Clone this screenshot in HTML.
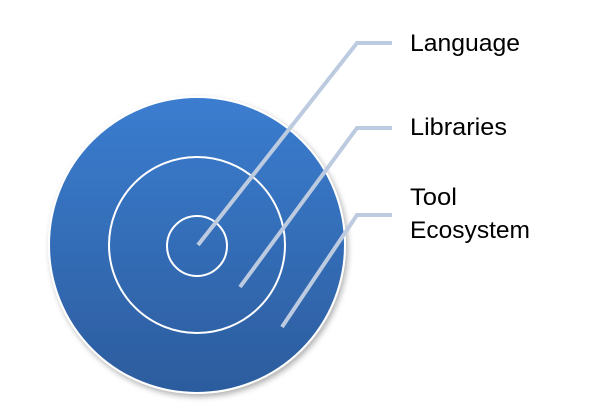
<!DOCTYPE html>
<html><head><style>
html,body{margin:0;padding:0;background:#fff;}
</style></head><body>
<svg width="590" height="405" viewBox="0 0 590 405" xmlns="http://www.w3.org/2000/svg">
<defs>
<linearGradient id="g" x1="0" y1="0" x2="0" y2="1">
<stop offset="0" stop-color="#3b7dd0"/>
<stop offset="1" stop-color="#2c5c9d"/>
</linearGradient>
<filter id="s" x="-10%" y="-10%" width="130%" height="130%"><feDropShadow dx="2" dy="3" stdDeviation="3" flood-color="#000" flood-opacity="0.3"/></filter>
</defs>
<circle cx="197" cy="245" r="148" fill="url(#g)" stroke="#fff" stroke-width="2" filter="url(#s)"/>
<circle cx="197" cy="245" r="88" fill="none" stroke="#fff" stroke-width="2"/>
<circle cx="197" cy="246" r="30" fill="none" stroke="#fff" stroke-width="2"/>
<g fill="none" stroke="#bccbe0" stroke-width="4" stroke-linejoin="miter">
<polyline points="198,245 357,43 392,43"/>
<polyline points="240,287 357,128 392,128"/>
<polyline points="282,327 357,215 392,215"/>
</g>
<g font-family="Liberation Sans, sans-serif" font-size="24" fill="#000">
<text x="410" y="51" textLength="110" lengthAdjust="spacingAndGlyphs">Language</text>
<text x="410" y="135" textLength="97" lengthAdjust="spacingAndGlyphs">Libraries</text>
<text x="410" y="205" textLength="47" lengthAdjust="spacingAndGlyphs">Tool</text>
<text x="410" y="238" textLength="120" lengthAdjust="spacingAndGlyphs">Ecosystem</text>
</g>
</svg>
</body></html>
